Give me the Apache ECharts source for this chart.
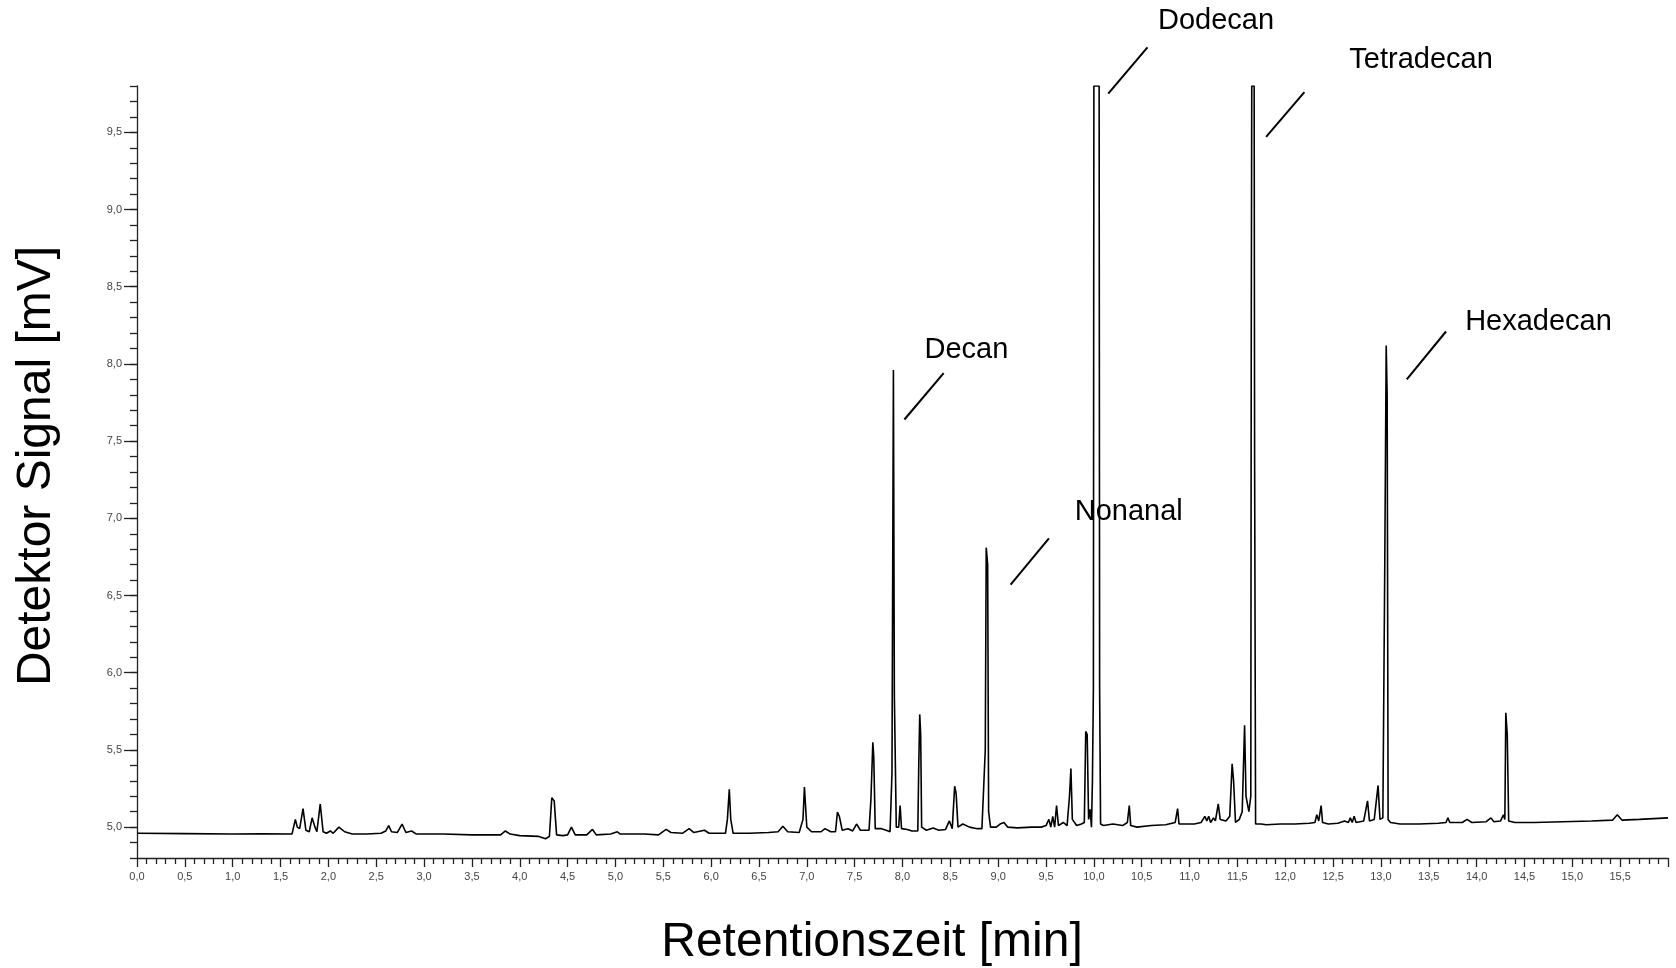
<!DOCTYPE html>
<html>
<head>
<meta charset="utf-8">
<title>Chromatogramm</title>
<script src="https://cdn.jsdelivr.net/npm/echarts@6/dist/echarts.min.js"></script>
<style>
  html, body { margin: 0; padding: 0; background: #fff; }
  #chart { width: 1676px; height: 968px; }
</style>
</head>
<body>
<div id="chart"></div>
<script>
// Retentionszeit [min], Signal [mV]
var signal = [
  [0, 4.96], [0.5, 4.958], [1.0, 4.955], [1.3, 4.957], [1.62, 4.955],
  [1.655, 5.05], [1.675, 5.0], [1.70, 4.99], [1.735, 5.12], [1.765, 4.98],
  [1.80, 4.97], [1.83, 5.06], [1.86, 5.0], [1.88, 4.97], [1.915, 5.15],
  [1.945, 4.97], [1.98, 4.96], [2.02, 4.975], [2.05, 4.96], [2.11, 5.0],
  [2.17, 4.97], [2.25, 4.955], [2.4, 4.955], [2.55, 4.96], [2.6, 4.975],
  [2.63, 5.01], [2.66, 4.97], [2.72, 4.965], [2.77, 5.02], [2.81, 4.965],
  [2.87, 4.975], [2.92, 4.955], [3.2, 4.955], [3.5, 4.95], [3.8, 4.95],
  [3.85, 4.975], [3.9, 4.955], [4.0, 4.945], [4.2, 4.94], [4.27, 4.925],
  [4.31, 4.94], [4.335, 5.19], [4.36, 5.17], [4.385, 4.95], [4.45, 4.945],
  [4.5, 4.95], [4.54, 5.0], [4.58, 4.95], [4.7, 4.95], [4.76, 4.985],
  [4.8, 4.95], [4.95, 4.955], [5.02, 4.97], [5.05, 4.955], [5.3, 4.955],
  [5.45, 4.95], [5.53, 4.985], [5.58, 4.965], [5.7, 4.96], [5.77, 4.99],
  [5.82, 4.965], [5.93, 4.98], [5.98, 4.96], [6.15, 4.96], [6.17, 5.05],
  [6.19, 5.245], [6.205, 5.05], [6.23, 4.96], [6.4, 4.96], [6.6, 4.965],
  [6.7, 4.97], [6.75, 5.006], [6.8, 4.97], [6.92, 4.965], [6.96, 5.05],
  [6.975, 5.26], [6.995, 5.26], [7.0, 5.0], [7.05, 4.97], [7.15, 4.97],
  [7.19, 4.99], [7.25, 4.97], [7.30, 4.97], [7.32, 5.097], [7.34, 5.07],
  [7.37, 4.98], [7.43, 4.99], [7.48, 4.975], [7.52, 5.02], [7.56, 4.98],
  [7.65, 4.98], [7.67, 5.18], [7.69, 5.55], [7.70, 5.45], [7.715, 4.99],
  [7.78, 4.99], [7.83, 4.98], [7.87, 4.97], [7.89, 5.35], [7.905, 7.96],
  [7.915, 5.85], [7.935, 5.0], [7.96, 5.0], [7.975, 5.14], [7.99, 4.99],
  [8.05, 4.985], [8.1, 4.975], [8.16, 4.975], [8.17, 5.4], [8.18, 5.73],
  [8.19, 5.6], [8.20, 5.0], [8.25, 4.98], [8.32, 4.995], [8.38, 4.98],
  [8.45, 4.985], [8.49, 5.04], [8.52, 4.99], [8.545, 5.265], [8.56, 5.22],
  [8.58, 5.0], [8.63, 5.02], [8.7, 5.0], [8.78, 4.99], [8.83, 4.99],
  [8.865, 5.5], [8.875, 6.81], [8.89, 6.7], [8.9, 5.1], [8.92, 5.0],
  [8.98, 5.0], [9.02, 5.02], [9.06, 5.03], [9.1, 5.0], [9.2, 4.995],
  [9.35, 5.0], [9.45, 5.0], [9.5, 5.01], [9.53, 5.05], [9.55, 5.0],
  [9.57, 5.07], [9.59, 5.0], [9.61, 5.14], [9.63, 5.01], [9.68, 5.03],
  [9.72, 5.01], [9.745, 5.2], [9.76, 5.38], [9.775, 5.05], [9.82, 5.01],
  [9.87, 5.02], [9.90, 5.03], [9.915, 5.62], [9.93, 5.6], [9.945, 5.05],
  [9.96, 5.115], [9.975, 5.0], [9.985, 5.3], [9.995, 5.9], [10.0, 9.8],
  [10.055, 9.8], [10.06, 5.9], [10.07, 5.02], [10.1, 5.01], [10.2, 5.02],
  [10.3, 5.01], [10.35, 5.03], [10.37, 5.14], [10.385, 5.01], [10.45, 5.0],
  [10.6, 5.01], [10.75, 5.015], [10.85, 5.03], [10.875, 5.12], [10.89, 5.02],
  [10.95, 5.02], [11.05, 5.02], [11.12, 5.03], [11.16, 5.07], [11.18, 5.04],
  [11.2, 5.07], [11.22, 5.03], [11.25, 5.06], [11.27, 5.04], [11.3, 5.15],
  [11.32, 5.05], [11.38, 5.04], [11.42, 5.07], [11.445, 5.41], [11.46, 5.3],
  [11.48, 5.03], [11.52, 5.05], [11.55, 5.1], [11.575, 5.66], [11.59, 5.2],
  [11.62, 5.1], [11.64, 5.2], [11.645, 8.3], [11.65, 9.8], [11.675, 9.8],
  [11.68, 7.35], [11.69, 5.02], [11.75, 5.02], [11.8, 5.015], [11.95, 5.02],
  [12.1, 5.02], [12.25, 5.025], [12.31, 5.03], [12.33, 5.08], [12.35, 5.04],
  [12.375, 5.14], [12.39, 5.03], [12.45, 5.02], [12.55, 5.025], [12.62, 5.04],
  [12.66, 5.03], [12.68, 5.06], [12.70, 5.03], [12.72, 5.07], [12.74, 5.03],
  [12.82, 5.04], [12.86, 5.17], [12.88, 5.04], [12.93, 5.05], [12.97, 5.27],
  [12.99, 5.05], [13.02, 5.06], [13.04, 6.7], [13.055, 8.12], [13.065, 7.8],
  [13.075, 5.05], [13.1, 5.03], [13.2, 5.02], [13.4, 5.02], [13.6, 5.025],
  [13.68, 5.03], [13.7, 5.06], [13.72, 5.03], [13.85, 5.03], [13.9, 5.05],
  [13.95, 5.03], [14.1, 5.035], [14.15, 5.06], [14.18, 5.035], [14.25, 5.04],
  [14.28, 5.08], [14.295, 5.05], [14.305, 5.74], [14.32, 5.6], [14.335, 5.04],
  [14.4, 5.03], [14.6, 5.03], [14.9, 5.035], [15.2, 5.04], [15.42, 5.045],
  [15.47, 5.08], [15.52, 5.045], [15.7, 5.05], [15.85, 5.055], [16.0, 5.06]
]
var xLabels = [0, 0.5, 1, 1.5, 2, 2.5, 3, 3.5, 4, 4.5, 5, 5.5, 6, 6.5, 7, 7.5,
  8, 8.5, 9, 9.5, 10, 10.5, 11, 11.5, 12, 12.5, 13, 13.5, 14, 14.5, 15, 15.5]
var yLabels = [5.0, 5.5, 6.0, 6.5, 7.0, 7.5, 8.0, 8.5, 9.0, 9.5]

// peak names with leader line (from -> to) and text anchor, in data units
var peakNames = ['Decan', 'Nonanal', 'Dodecan', 'Tetradecan', 'Hexadecan']
var leaderFrom = [[8.02, 7.64], [9.13, 6.57], [10.15, 9.75], [11.80, 9.47], [13.27, 7.90]]
var leaderTo = [[8.43, 7.94], [9.53, 6.87], [10.56, 10.05], [12.20, 9.76], [13.68, 8.21]]
var nameAt = [[8.23, 8.09], [9.80, 7.04], [10.67, 10.22], [12.67, 9.97], [13.88, 8.27]]

var FONT = '"Liberation Sans", Arial, sans-serif'

function fmt (v) {
  return v.toFixed(1).replace('.', ',')
}

var chart = echarts.init(document.getElementById('chart'))
var option = {
  animation: false,
  grid: { left: 137, right: 8, top: 86, bottom: 110, containLabel: false },
  xAxis: {
    type: 'value',
    min: 0,
    max: 16,
    interval: 0.5,
    axisLine: { lineStyle: { color: '#222', width: 1.3 } },
    axisTick: { length: 9, lineStyle: { color: '#222', width: 1.3 } },
    minorTick: { show: true, splitNumber: 5, length: 6, lineStyle: { color: '#222', width: 1.3 } },
    splitLine: { show: false },
    axisLabel: {
      customValues: xLabels,
      formatter: fmt,
      margin: 13,
      fontSize: 11,
      fontFamily: FONT,
      color: '#444'
    }
  },
  yAxis: [
    {
      type: 'value',
      min: 4.8,
      max: 9.8,
      interval: 0.1,
      position: 'left',
      axisLine: { show: true, lineStyle: { color: '#222', width: 1.3 } },
      axisTick: { show: true, length: 7, lineStyle: { color: '#222', width: 1.3 } },
      axisLabel: { show: false },
      splitLine: { show: false }
    },
    {
      type: 'value',
      min: 4.8,
      max: 9.8,
      position: 'left',
      axisLine: { show: false },
      axisTick: { show: true, customValues: yLabels, length: 13, lineStyle: { color: '#222', width: 1.3 } },
      axisLabel: {
        customValues: yLabels,
        formatter: fmt,
        margin: 15,
        fontSize: 11,
        fontFamily: FONT,
        color: '#444'
      },
      splitLine: { show: false }
    }
  ],
  series: [
    {
      name: 'Signal',
      type: 'line',
      data: signal,
      yAxisIndex: 0,
      symbol: 'none',
      lineStyle: { color: '#000', width: 1.6 },
      clip: true
    }
  ]
}
chart.setOption(option)

// titles and peak annotations
var graphics = [
  {
    type: 'text',
    x: 872,
    y: 943,
    style: { text: 'Retentionszeit [min]', fontSize: 48, fontFamily: FONT, fill: '#000', textAlign: 'center', textVerticalAlign: 'middle' }
  },
  {
    type: 'text',
    x: 37,
    y: 466,
    rotation: Math.PI / 2,
    style: { text: 'Detektor Signal [mV]', fontSize: 48, fontFamily: FONT, fill: '#000', textAlign: 'center', textVerticalAlign: 'middle' }
  }
]
for (var i = 0; i < peakNames.length; i++) {
  var a = chart.convertToPixel({ seriesIndex: 0 }, leaderFrom[i])
  var b = chart.convertToPixel({ seriesIndex: 0 }, leaderTo[i])
  var c = chart.convertToPixel({ seriesIndex: 0 }, nameAt[i])
  graphics.push({
    type: 'line',
    shape: { x1: a[0], y1: a[1], x2: b[0], y2: b[1] },
    style: { stroke: '#000', lineWidth: 2 }
  })
  graphics.push({
    type: 'text',
    x: c[0],
    y: c[1],
    style: { text: peakNames[i], fontSize: 29, fontFamily: FONT, fill: '#000', textAlign: 'left', textVerticalAlign: 'middle' }
  })
}
chart.setOption({ graphic: graphics })
</script>
</body>
</html>
